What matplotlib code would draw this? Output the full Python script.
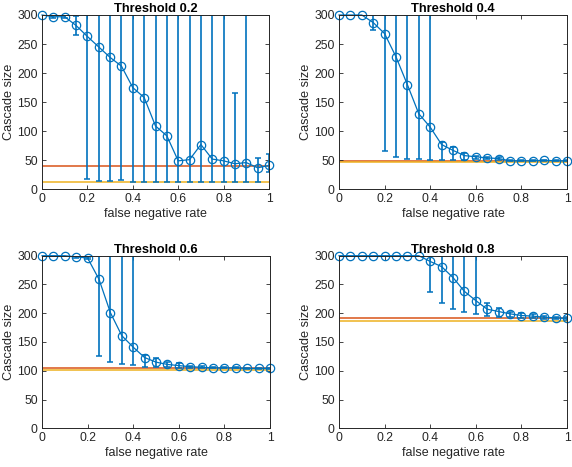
import numpy as np
import matplotlib
matplotlib.use("Agg")
import matplotlib.pyplot as plt

plt.rcParams['font.family'] = ['Liberation Sans', 'DejaVu Sans']

fnr = [0, 0.05, 0.1, 0.15, 0.2, 0.25, 0.3, 0.35, 0.4, 0.45, 0.5,
       0.55, 0.6, 0.65, 0.7, 0.75, 0.8, 0.85, 0.9, 0.95, 1.0]

thresholds = ["Threshold 0.2", "Threshold 0.4", "Threshold 0.6", "Threshold 0.8"]

mean_02 = [300, 297, 297, 282, 263, 245, 227, 212, 175, 158, 109,
           92, 49, 51, 77, 52, 49, 44, 46, 37, 41]
low_02 = [300, 294, 294, 266, 18, 15, 15, 16, 13, 13, 13,
          13, 13, 13, 13, 13, 13, 13, 13, 13, 30]
high_02 = [300, 300, 300, 298, 300, 300, 300, 300, 300, 300, 300,
           300, 300, 300, 300, 300, 300, 165, 300, 54, 60]

mean_04 = [300, 300, 300, 287, 268, 228, 180, 130, 107, 77, 67,
           58, 56, 54, 53, 49, 49, 49, 50, 49, 49]
low_04 = [300, 300, 300, 275, 66, 56, 53, 52, 50, 50, 50,
          51, 53, 52, 51, 48, 48, 48, 48, 48, 48]
high_04 = [300, 300, 300, 300, 300, 300, 300, 300, 300, 82, 72,
           62, 58, 56, 55, 50, 50, 50, 51, 50, 50]

mean_06 = [300, 300, 300, 298, 296, 259, 201, 161, 141, 123, 115,
           111, 109, 107, 106, 105, 105, 105, 104, 104, 104]
low_06 = [300, 300, 300, 296, 294, 126, 115, 112, 110, 106, 107,
          107, 105, 105, 104, 104, 104, 104, 103, 103, 103]
high_06 = [300, 300, 300, 300, 298, 300, 300, 300, 300, 128, 122,
           115, 114, 109, 108, 107, 106, 106, 105, 105, 105]

mean_08 = [300, 300, 300, 300, 300, 300, 300, 300, 290, 281, 262,
           238, 222, 207, 203, 199, 196, 195, 193, 192, 191]
low_08 = [300, 300, 300, 300, 300, 300, 300, 300, 237, 217, 207,
          202, 198, 195, 194, 194, 192, 192, 190, 190, 189]
high_08 = [300, 300, 300, 300, 300, 300, 300, 300, 300, 300, 300,
           300, 300, 218, 209, 203, 200, 198, 196, 194, 193]

red_lines = [40, 49, 104, 192.5]
yellow_lines = [12.5, 47, 101, 186]

means = [mean_02, mean_04, mean_06, mean_08]
lows = [low_02, low_04, low_06, low_08]
highs = [high_02, high_04, high_06, high_08]

BLUE = '#0072BD'
RED = '#D95319'
YEL = '#EDB120'
AX = '#262626'

fig = plt.figure(figsize=(5.72, 4.67), dpi=100)
W, H = 572, 467
boxes = [(42, 15, 269, 189.3), (339, 15, 567, 189.3),
         (42, 255.7, 270, 428.3), (339, 255.7, 567, 428.3)]

for i in range(4):
    x0, y0, x1, y1 = boxes[i]
    ax = fig.add_axes([x0 / W, 1 - y1 / H, (x1 - x0) / W, (y1 - y0) / H])
    m = np.array(means[i], dtype=float)
    lo = np.array(lows[i], dtype=float)
    hi = np.array(highs[i], dtype=float)
    ax.axhline(red_lines[i], color=RED, lw=1.1, zorder=1)
    ax.axhline(yellow_lines[i], color=YEL, lw=1.1, zorder=1)
    ax.errorbar(fnr, m, yerr=[m - lo, hi - m], fmt='none', ecolor=BLUE,
                elinewidth=1.2, capsize=2.5, capthick=1.1, zorder=2)
    ax.plot(fnr, m, '-o', color=BLUE, lw=0.9, ms=6, mfc='none',
            mew=0.9, clip_on=False, zorder=3)
    ax.set_xlim(0, 1)
    ax.set_ylim(0, 300)
    ax.set_xticks([0, 0.2, 0.4, 0.6, 0.8, 1])
    ax.set_xticklabels(['0', '0.2', '0.4', '0.6', '0.8', '1'])
    ax.set_yticks([0, 50, 100, 150, 200, 250, 300])
    ax.tick_params(direction='in', length=3, width=0.6, colors=AX,
                   labelsize=8.7, top=True, right=True, pad=3)
    for sp in ax.spines.values():
        sp.set_color(AX)
        sp.set_linewidth(0.7)
        sp.set_zorder(4)
    ax.set_xlabel('false negative rate', fontsize=9, color=AX, labelpad=2)
    ax.set_ylabel('Cascade size', fontsize=9.2, color=AX, labelpad=2)
    ax.set_title(thresholds[i], fontsize=9.3, fontweight='bold', pad=2)

fig.savefig('out.png', dpi=100)
